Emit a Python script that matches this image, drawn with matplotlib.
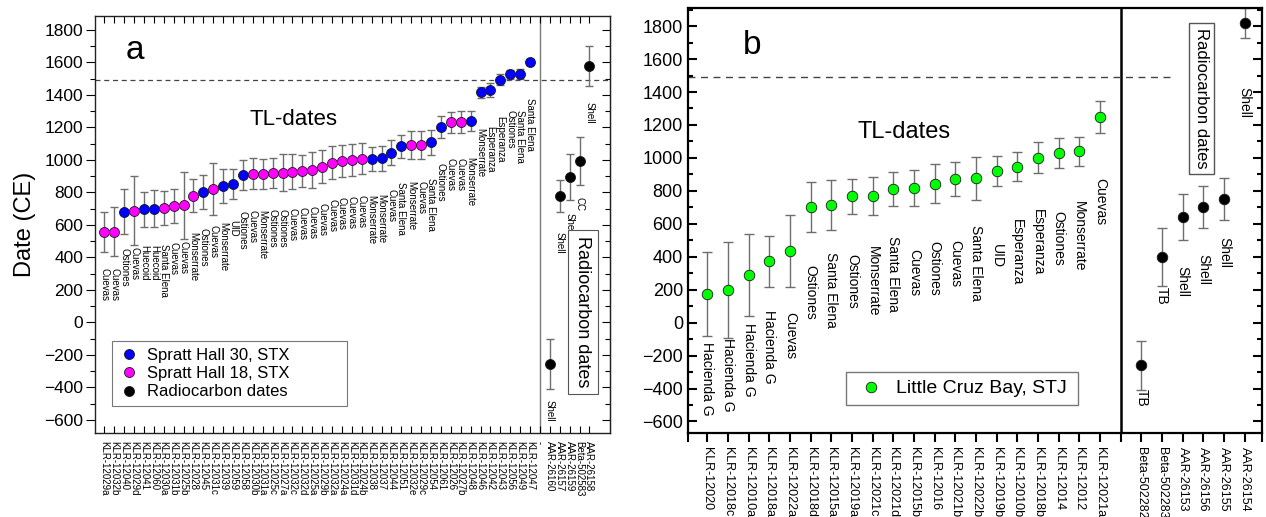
"""
TL and radiocarbon dates, panels a (Spratt Hall) and b (Little Cruz Bay)
"""
import numpy as np
import matplotlib
matplotlib.use("Agg")
import matplotlib.pyplot as plt
from matplotlib.lines import Line2D
from matplotlib.ticker import MultipleLocator

plt.rcParams['font.family'] = ['Liberation Sans', 'DejaVu Sans']

# =============================================================================
# Panel a data - Spratt Hall, STX
# =============================================================================
a_ids = ['KLR-12029a', 'KLR-12032b', 'KLR-12040', 'KLR-12029d', 'KLR-12041', 'KLR-12060',
         'KLR-12030a', 'KLR-12031b', 'KLR-12025b', 'KLR-12028', 'KLR-12045', 'KLR-12031c',
         'KLR-12039', 'KLR-12059', 'KLR-12058', 'KLR-12030b', 'KLR-12031a', 'KLR-12025c',
         'KLR-12027a', 'KLR-12032c', 'KLR-12032d', 'KLR-12025a', 'KLR-12029b', 'KLR-12032a',
         'KLR-12024a', 'KLR-12031d', 'KLR-12024b', 'KLR-12038', 'KLR-12037', 'KLR-12044',
         'KLR-12051', 'KLR-12032e', 'KLR-12029c', 'KLR-12054', 'KLR-12061', 'KLR-12026',
         'KLR-12027b', 'KLR-12048', 'KLR-12046', 'KLR-12042', 'KLR-12043', 'KLR-12056',
         'KLR-12049', 'KLR-12047']
a_sites = ['Cuevas', 'Cuevas', 'Ostiones', 'Cuevas', 'Huecoid', 'Huecoid', 'Santa Elena',
           'Cuevas', 'Cuevas', 'Monserrate', 'Ostiones', 'Cuevas', 'Monserrate', 'UID',
           'Ostiones', 'Cuevas', 'Monserrate', 'Ostiones', 'Ostiones', 'Cuevas', 'Cuevas',
           'Cuevas', 'Cuevas', 'Cuevas', 'Cuevas', 'Cuevas', 'Cuevas', 'Monserrate',
           'Monserrate', 'Cuevas', 'Santa Elena', 'Monserrate', 'Cuevas', 'Santa Elena',
           'Ostiones', 'Cuevas', 'Cuevas', 'Monserrate', 'Monserrate', 'Esperanza',
           'Esperanza', 'Ostiones', 'Santa Elena', 'Santa Elena']
# 30 = Spratt Hall 30, 18 = Spratt Hall 18
a_trench = [18, 18, 30, 18, 30, 30, 18, 18, 18, 18, 30, 18, 30, 30, 30, 18, 18, 18, 18, 18,
            18, 18, 18, 18, 18, 18, 18, 30, 30, 30, 30, 18, 18, 30, 30, 18, 18, 30, 30, 30,
            30, 30, 30, 30]
a_dates = [558, 558, 681, 689, 697, 701, 707, 718, 722, 780, 805, 819, 838, 852, 910, 916,
           916, 921, 922, 929, 931, 940, 959, 983, 993, 999, 1007, 1006, 1010, 1046, 1083,
           1091, 1090, 1108, 1204, 1231, 1235, 1239, 1417, 1431, 1495, 1526, 1530, 1604]
a_err = [123, 150, 138, 215, 108, 112, 105, 105, 207, 102, 105, 160, 105, 92, 92, 94, 92,
         92, 115, 105, 100, 110, 102, 100, 100, 97, 95, 75, 75, 75, 68, 87, 87, 75, 67, 65,
         68, 60, 35, 42, 35, 30, 30, 20]

a_rc_ids = ['AAR-26160', 'AAR-26157', 'AAR-26159', 'Beta-502583', 'AAR-26158']
a_rc_dates = [-255, 779, 896, 994, 1577]
a_rc_err = [155, 100, 140, 147, 123]
a_rc_material = ['Shell', 'Shell', 'Shell', 'CC', 'Shell']

# =============================================================================
# Panel b data - Little Cruz Bay, STJ
# =============================================================================
b_ids = ['KLR-12020', 'KLR-12018c', 'KLR-12010a', 'KLR-12018a', 'KLR-12022a', 'KLR-12018d',
         'KLR-12015a', 'KLR-12019a', 'KLR-12021c', 'KLR-12021d', 'KLR-12015b', 'KLR-12016',
         'KLR-12021b', 'KLR-12022b', 'KLR-12019b', 'KLR-12010b', 'KLR-12018b', 'KLR-12014',
         'KLR-12012', 'KLR-12021a']
b_sites = ['Hacienda G', 'Hacienda G', 'Hacienda G', 'Hacienda G', 'Cuevas', 'Ostiones',
           'Santa Elena', 'Ostiones', 'Monserrate', 'Santa Elena', 'Cuevas', 'Ostiones',
           'Cuevas', 'Santa Elena', 'UID', 'Esperanza', 'Esperanza', 'Ostiones',
           'Monserrate', 'Cuevas']
b_dates = [173, 198, 289, 372, 437, 701, 712, 767, 767, 809, 817, 844, 874, 876, 919, 945,
           1002, 1030, 1039, 1250]
b_err = [256, 290, 247, 155, 218, 152, 152, 106, 116, 104, 110, 118, 103, 130, 90, 88, 92,
         89, 88, 97]

b_rc_ids = ['Beta-502282', 'Beta-502283', 'AAR-26153', 'AAR-26156', 'AAR-26155', 'AAR-26154']
b_rc_dates = [-259, 400, 643, 700, 752, 1820]
b_rc_err = [147, 177, 140, 127, 126, 92]
b_rc_material = ['TB', 'TB', 'Shell', 'Shell', 'Shell', 'Shell']

contact_year = 1492  # dashed line

BLUE = '#0000ff'
MAGENTA = '#ff00ff'
GREEN = '#00ff00'
ERR = '#6e6e6e'


def draw_points(ax, x, y, err, color, ms, capsize):
    ax.errorbar(x, y, yerr=err, fmt='none', ecolor=ERR, elinewidth=1, capsize=capsize,
                capthick=1, zorder=2)
    ax.plot(x, y, 'o', ls='none', ms=ms, mfc=color, mec='#1a1a1a', mew=0.6, zorder=3)


def label_points(ax, x, y, texts, dy, size, va):
    # dy: offset below the point in pixels (single value or one per point)
    dys = np.broadcast_to(dy, len(texts))
    for xi, yi, t, d in zip(x, y, texts, dys):
        ax.annotate(t, (xi, yi), xytext=(0, -d), textcoords='offset pixels',
                    rotation=-90, ha='center', va=va, fontsize=size)


fig = plt.figure(figsize=(12.66, 5.17), dpi=100)

# =============================================================================
# Panel a
# =============================================================================
ax = fig.add_axes([0.07504, 0.16248, 0.40679, 0.80658])
n_a = len(a_ids)
xa = np.arange(n_a)
xa_rc = np.arange(len(a_rc_ids)) + n_a + 1
trench = np.array(a_trench)
ya = np.array(a_dates)
ea = np.array(a_err)

ax.axvline(n_a, color='#7a7a7a', lw=1, zorder=1)
ax.axhline(contact_year, color='#444444', lw=0.9, ls=(0, (4, 3)), zorder=1)

m30 = trench == 30
m18 = trench == 18
draw_points(ax, xa[m30], ya[m30], ea[m30], BLUE, 7.2, 3)
draw_points(ax, xa[m18], ya[m18], ea[m18], MAGENTA, 7.2, 3)
draw_points(ax, xa_rc, a_rc_dates, a_rc_err, 'black', 7.2, 3)
label_points(ax, xa, ya, a_sites, 36, 7, 'top')
label_points(ax, xa_rc, a_rc_dates, a_rc_material, 36, 7, 'top')

ax.set_xlim(-0.94, 51.08)
ax.set_ylim(-680, 1886)
ax.set_xticks(np.arange(n_a + 1 + len(a_rc_ids)))
ax.set_xticklabels(a_ids + ['-'] + a_rc_ids, rotation=-90, fontsize=7)
ax.tick_params(axis='x', direction='in', top=True, length=5, width=0.8, pad=5.8)
ax.yaxis.set_major_locator(MultipleLocator(200))
ax.yaxis.set_minor_locator(MultipleLocator(100))
ax.tick_params(axis='y', which='major', direction='out', length=6.5, width=0.8,
               labelsize=12.5, pad=2)
ax.tick_params(axis='y', which='minor', direction='out', length=3.5, width=0.8)
sec = ax.secondary_yaxis('right')
sec.yaxis.set_major_locator(MultipleLocator(200))
sec.yaxis.set_minor_locator(MultipleLocator(100))
sec.tick_params(which='both', direction='in', labelright=False, width=0.8)
sec.tick_params(which='major', length=6)
sec.tick_params(which='minor', length=3.5)
sec.spines['right'].set_color('#222222')
for s in ax.spines.values():
    s.set_color('#222222')
    s.set_linewidth(1)

ax.set_ylabel('Date (CE)', fontsize=17, labelpad=6)
ax.text(0.078, 0.918, 'a', transform=ax.transAxes, fontsize=24, ha='center', va='center')
ax.text(0.386, 0.751, 'TL-dates', transform=ax.transAxes, fontsize=16, ha='center',
        va='center')
ax.text(0.947, 0.29, 'Radiocarbon dates', transform=ax.transAxes, rotation=-90,
        ha='center', va='center', fontsize=13,
        bbox=dict(boxstyle='square,pad=0.35', fc='white', ec='#555555', lw=0.8))

handles = [Line2D([], [], marker='o', ls='none', ms=7.2, mfc=c, mec='#1a1a1a', mew=0.6)
           for c in (BLUE, MAGENTA, 'black')]
leg = ax.legend(handles, ['Spratt Hall 30, STX', 'Spratt Hall 18, STX', 'Radiocarbon dates'],
                loc='upper left', bbox_to_anchor=(0.033, 0.06, 0.456, 0.1606), mode='expand',
                fontsize=12, fancybox=False, edgecolor='#555555', borderaxespad=0,
                borderpad=0.4, handlelength=1.2, handletextpad=0.5, labelspacing=0.2)
leg.get_frame().set_linewidth(0.8)

# =============================================================================
# Panel b
# =============================================================================
bx = fig.add_axes([0.54344, 0.16248, 0.45340, 0.82205])
n_b = len(b_ids)
xb = np.arange(n_b)
xb_rc = np.arange(len(b_rc_ids)) + n_b + 1

bx.axvline(n_b, color='black', lw=1.8, zorder=1)
bx.axhline(contact_year, xmax=0.848, color='#444444', lw=1, ls=(0, (5, 4)), zorder=1)

draw_points(bx, xb, b_dates, b_err, GREEN, 7.6, 3.4)
draw_points(bx, xb_rc, b_rc_dates, b_rc_err, 'black', 7.6, 3.4)
label_points(bx, xb, b_dates, b_sites, 85, 10, 'center')
label_points(bx, xb_rc, b_rc_dates, b_rc_material, [33, 39, 65, 62, 54, 80], 10, 'center')

bx.set_xlim(-0.93, 26.84)
bx.set_ylim(-670, 1910)
bx.set_xticks(list(xb) + [n_b] + list(xb_rc))
bx.set_xticklabels(b_ids + [''] + b_rc_ids, rotation=-90, fontsize=9)
bx.set_xticks([-0.93, 26.84], minor=True)
bx.tick_params(axis='x', which='both', direction='out', length=6.5, width=1.5, pad=3.6)
bx.yaxis.set_major_locator(MultipleLocator(200))
bx.yaxis.set_minor_locator(MultipleLocator(100))
bx.tick_params(axis='y', which='both', direction='in', right=True, width=1.5)
bx.tick_params(axis='y', which='major', length=6.5, labelsize=13, pad=3.6)
bx.tick_params(axis='y', which='minor', length=3.5)
for s in bx.spines.values():
    s.set_color('black')
    s.set_linewidth(1.6)

bx.text(0.111, 0.912, 'b', transform=bx.transAxes, fontsize=24, ha='center', va='center')
bx.text(0.376, 0.709, 'TL-dates', transform=bx.transAxes, fontsize=17, ha='center',
        va='center')
bx.text(0.894, 0.787, 'Radiocarbon dates', transform=bx.transAxes, rotation=-90,
        ha='center', va='center', fontsize=12,
        bbox=dict(boxstyle='square,pad=0.3', fc='white', ec='#555555', lw=1))

hb = [Line2D([], [], marker='o', ls='none', ms=7.6, mfc=GREEN, mec='#1a1a1a', mew=0.6)]
legb = bx.legend(hb, ['Little Cruz Bay, STJ'], loc='upper left',
                 bbox_to_anchor=(0.275, 0.066, 0.404, 0.0775), mode='expand', fontsize=14,
                 fancybox=False, edgecolor='#555555', borderaxespad=0, borderpad=0.4,
                 handlelength=1.8, handletextpad=0.4)
legb.get_frame().set_linewidth(1)

fig.savefig('out.png', dpi=100)
